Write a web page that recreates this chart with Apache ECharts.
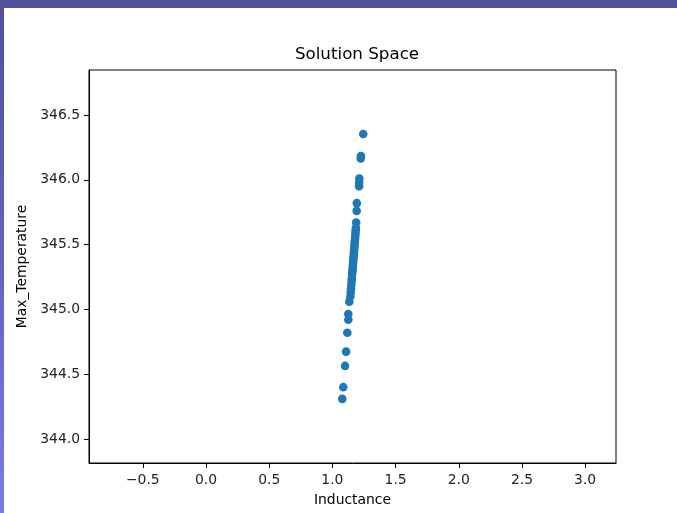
<!DOCTYPE html>
<html>
<head>
<meta charset="utf-8">
<script src="https://cdn.jsdelivr.net/npm/echarts@6/dist/echarts.min.js"></script>
<style>
  html, body { margin: 0; padding: 0; background: #ffffff; }
  #wrap { position: relative; width: 677px; height: 513px; overflow: hidden; background: #fff; }
  #chart { position: absolute; left: 0; top: 0; width: 677px; height: 513px; }
  #topband { position: absolute; left: 0; top: 0; width: 677px; height: 8px; background: #52509a; }
  #leftband { position: absolute; left: 0; top: 0; width: 4px; height: 513px;
    background: linear-gradient(to bottom, #52509a 0%, #6462bb 50%, #7c7ce0 100%); }
</style>
</head>
<body>
<div id="wrap">
  <div id="chart"></div>
  <div id="topband"></div>
  <div id="leftband"></div>
</div>
<script>
const inductance = [
  1.244, 1.226, 1.224, 1.213, 1.212, 1.211, 1.193, 1.192, 1.188,
  1.186, 1.184, 1.183, 1.181, 1.180, 1.178, 1.176, 1.175, 1.173, 1.171,
  1.170, 1.168, 1.166, 1.165, 1.163, 1.161, 1.160, 1.158, 1.156, 1.154,
  1.152, 1.150, 1.147, 1.145, 1.142,
  1.134, 1.126, 1.126, 1.118, 1.108, 1.100, 1.086, 1.078
];
const maxTemperature = [
  346.353, 346.184, 346.165, 346.01, 345.98, 345.95, 345.82, 345.76, 345.67,
  345.63, 345.61, 345.59, 345.57, 345.55, 345.53, 345.51, 345.49, 345.47, 345.45,
  345.43, 345.41, 345.39, 345.37, 345.35, 345.33, 345.31, 345.29, 345.27, 345.24,
  345.22, 345.19, 345.16, 345.13, 345.10,
  345.06, 344.965, 344.92, 344.82, 344.674, 344.564, 344.40, 344.31
];
const xTicks = [-0.5, 0.0, 0.5, 1.0, 1.5, 2.0, 2.5, 3.0];
const yTicks = [344.0, 344.5, 345.0, 345.5, 346.0, 346.5];

const fmt = v => { const s = Number(v).toFixed(1); return s.replace('-', '\u2212'); };
const font = 'DejaVu Sans';

const chart = echarts.init(document.getElementById('chart'), null, { renderer: 'canvas' });
chart.setOption({
  animation: false,
  backgroundColor: '#ffffff',
  title: {
    text: 'Solution Space',
    left: 352, textAlign: 'center', top: 41,
    textStyle: { fontFamily: font, fontSize: 16.7, fontWeight: 'normal', color: '#000' }
  },
  grid: { left: 89, right: 61, top: 70, bottom: 50, show: true, borderColor: '#000', borderWidth: 1, containLabel: false },
  xAxis: {
    type: 'value', min: -0.926, max: 3.244,
    name: 'Inductance', nameLocation: 'middle', nameGap: 30,
    nameTextStyle: { fontFamily: font, fontSize: 13.9, color: '#000' },
    axisLine: { show: true, onZero: false, lineStyle: { color: '#000', width: 1 } },
    axisTick: { show: true, length: 5, customValues: xTicks, lineStyle: { color: '#000' } },
    axisLabel: { customValues: xTicks, formatter: fmt, margin: 10, fontFamily: font, fontSize: 13.9, color: '#222' },
    splitLine: { show: false }
  },
  yAxis: {
    type: 'value', min: 343.815, max: 346.847,
    name: 'Max_Temperature', nameLocation: 'middle', nameGap: 60,
    nameTextStyle: { fontFamily: font, fontSize: 13.9, color: '#000' },
    axisLine: { show: true, onZero: false, lineStyle: { color: '#000', width: 1 } },
    axisTick: { show: true, length: 5, customValues: yTicks, lineStyle: { color: '#000' } },
    axisLabel: { customValues: yTicks, formatter: fmt, margin: 9, fontFamily: font, fontSize: 13.9, color: '#222' },
    splitLine: { show: false }
  },
  series: [{
    type: 'scatter',
    data: inductance.map((x, i) => [x, maxTemperature[i]]),
    symbol: 'circle', symbolSize: 8.6,
    itemStyle: { color: '#1f77b4', opacity: 1 }
  }]
});
</script>
</body>
</html>
